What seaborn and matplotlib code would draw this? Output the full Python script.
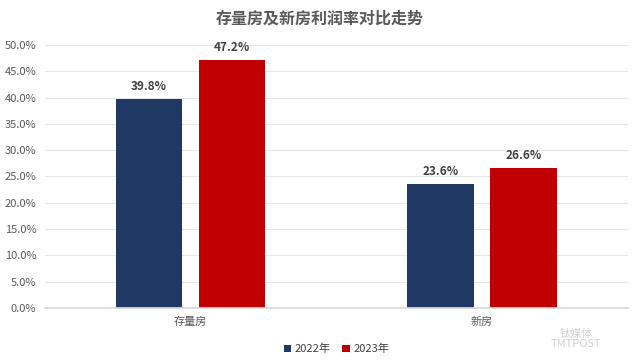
import pandas as pd
import seaborn as sns
import matplotlib.pyplot as plt
from matplotlib.ticker import FuncFormatter, MultipleLocator

# datos
categorias = ['存量房', '新房']
anios = ['2022年', '2023年']
v2022 = [39.8, 23.6]
v2023 = [47.2, 26.6]

df = pd.DataFrame({
    'cat': categorias * 2,
    'anio': [anios[0]] * 2 + [anios[1]] * 2,
    'valor': v2022 + v2023,
})

sns.set_theme(style='white')
plt.rcParams['font.family'] = ['Noto Sans CJK SC', 'DejaVu Sans']

fig, ax = plt.subplots(figsize=(6.4, 3.63), dpi=100)
fig.subplots_adjust(left=0.07, right=0.981, top=0.876, bottom=0.152)

sns.barplot(data=df, x='cat', y='valor', hue='anio', palette=['#1F3864', '#C00000'],
            width=0.57, gap=0.2, saturation=1, linewidth=0, ax=ax)

for cont in ax.containers:
    ax.bar_label(cont, labels=[f'{v:.1f}%' for v in cont.datavalues], padding=4,
                 fontsize=8.5, fontweight='bold', color='#404040')

ax.set_ylim(0, 50)
ax.yaxis.set_major_locator(MultipleLocator(5))
ax.yaxis.set_major_formatter(FuncFormatter(lambda v, p: f'{v:.1f}%'))
ax.grid(axis='y', color='#E6E6E6', linewidth=0.8)
ax.set_axisbelow(True)
for s in ['top', 'right', 'left']:
    ax.spines[s].set_visible(False)
ax.spines['bottom'].set_color('#D9D9D9')
ax.tick_params(axis='both', length=0, labelsize=8, colors='#595959', pad=6)
ax.set_xlabel('')
ax.set_ylabel('')

fig.suptitle('存量房及新房利润率对比走势', x=0.5, y=0.97, fontsize=11.5, fontweight='bold',
             color='#595959')

leg = ax.legend(loc='lower center', bbox_to_anchor=(0.5, -0.215), ncol=2, frameon=False,
                fontsize=8, handlelength=0.7, handleheight=0.7, handletextpad=0.3,
                columnspacing=1.0, labelcolor='#404040')

# marca de agua
fig.text(0.9, 0.065, '钛媒体\nTMTPOST', fontsize=8, color='#D0D0D0', ha='center', va='center',
         linespacing=1.0)

fig.savefig('out.png', dpi=100)
